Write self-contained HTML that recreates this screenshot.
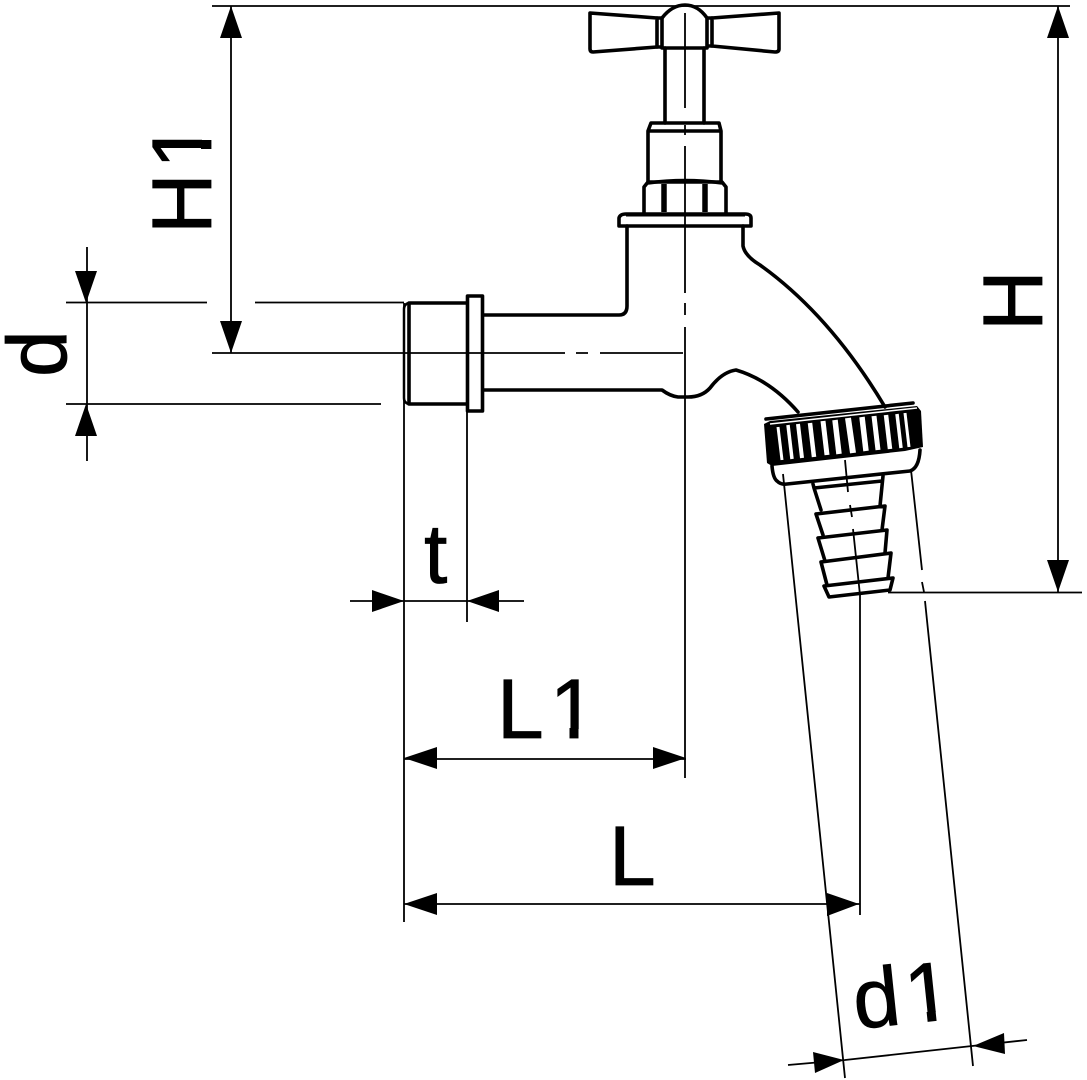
<!DOCTYPE html>
<html><head><meta charset="utf-8"><style>
html,body{margin:0;padding:0;background:#fff}
svg{display:block}
text{font-family:"Liberation Sans",Arial,sans-serif;font-size:84px;fill:#000;stroke:#000;stroke-width:.8}
.t{fill:none;stroke:#000;stroke-width:1.8}
.o{fill:none;stroke:#000;stroke-width:3.6;stroke-linejoin:round;stroke-linecap:round}
.a{fill:#000;stroke:none}
.s{fill:none;stroke:#fff}
</style></head><body>
<svg width="1087" height="1080" viewBox="0 0 1087 1080" xmlns="http://www.w3.org/2000/svg">
<!-- handle -->
<path class="o" d="M590 13 L657 18 V47 L593 52 Q590 52 590 49 Z"/>
<path class="o" d="M779 13 L712 18 V46 L775 52 Q779 52 779 49 Z"/>
<path class="o" d="M657 18 H662 M657 47 H662 M708 18 H712 M708 46 H712"/>
<path class="o" d="M662 48 V18 Q672 5 685 5 Q698 5 707 18 V48 Z"/>
<path class="o" d="M665 48 V123 M704 48 V123"/>
<!-- bonnet -->
<path class="o" d="M648 181 V131 L651 123 H719 L721 131 V181 M649 131 H720"/>
<path class="o" d="M644 213 V187 L648 182 H722 L726 187 V213"/>
<path d="M664 184 V212 M705 184 V212" fill="none" stroke="#000" stroke-width="5.500"/>
<path d="M648 183 Q685 178 722 183" fill="none" stroke="#000" stroke-width="3.500"/>
<path class="o" d="M619 218 Q620 214 626 214 H745 Q751 214 751 218 V226 H619 Z"/>
<path d="M626 214.500 H745" stroke="#000" stroke-width="4" fill="none"/>
<!-- body -->
<path class="o" d="M627 226 V306 Q627 315 619 315 H483"/>
<path class="o" d="M483 390 H662 Q670 396 678 397 H688 Q702 397 710 388 Q722 372 736 370 Q770 380 798 412"/>
<path class="o" d="M743 226 V246 Q745 256 760 265 Q830 315 885 407"/>
<!-- inlet -->
<path class="o" d="M467.500 296 H482.500 V411 H467.500 Z"/>
<path class="o" d="M467 303 H409 V404 H467"/>
<path d="M409 303 Q404 304 404 309 V398 Q404 403 409 404" fill="none" stroke="#000" stroke-width="2.500"/>
<!-- nut -->
<path class="o" d="M766 419 L913 403"/>
<polygon class="a" points="764,424 770,421 917,406 921,411 923,447 905,451 772,466 767,463"/>
<path class="s" stroke-width="3" d="M778 427 L782 460"/>
<path class="s" stroke-width="3.500" d="M788 425 L792 459"/>
<path class="s" stroke-width="4" d="M798 424 L802 458"/>
<path class="s" stroke-width="4.500" d="M810 423 L814 457"/>
<path class="s" stroke-width="5" d="M823 421 L827 455"/>
<path class="s" stroke-width="5.500" d="M835 420 L839 454"/>
<path class="s" stroke-width="6" d="M848 418 L853 453"/>
<path class="s" stroke-width="5.500" d="M862 417 L866 451"/>
<path class="s" stroke-width="5" d="M874 416 L878 450"/>
<path class="s" stroke-width="4.500" d="M886 415 L890 449"/>
<path class="s" stroke-width="3.500" d="M897 414 L901 448"/>
<path class="s" stroke-width="3" d="M905 413 L909 447"/>
<path d="M770 424 L917 408" stroke="#fff" stroke-width="1.500" fill="none"/>
<path class="o" d="M772 466 Q773 478 777 481 Q781 485 787 484 L910 471 Q919 468 920 450"/>
<!-- hose barb -->
<path class="o" d="M813 484 L814 488 L821 510 M883 476 L880 506 M814 488 L882 481"/>
<path class="o" d="M816 514 L885 506 L882 530 M816 514 L823 535"/>
<path class="o" d="M818 538 L887 530 L885 553 M818 538 L825 561"/>
<path class="o" d="M821 562 L891 553 L888 578 M821 562 L827 585"/>
<path class="o" d="M824 586 L893 578 L890 590 L829 597 Z"/>
<!-- centre lines -->
<path class="t" d="M685 13 V108 M685 125 V135 M685 146 V293 M685 303 V315 M685 327 V778"/>
<path class="t" d="M212 353 H565 M576 353 H588 M600 353 H683"/>
<path class="t" d="M845 460 L848 492 M850 505 L852 517 M853 529 L860 595 V915"/>
<!-- dimension / extension lines -->
<path class="t" d="M212 6 H1070 M888 592.500 H1082 M1058 6 V592 M231 6 V353"/>
<path class="t" d="M87 247 V461 M66 302.500 H207 M255 302.500 H404 M66 404 H381"/>
<path class="t" d="M404 303 V922 M467 412 V622 M350 601 H524 M404 759 H686 M404 904 H860"/>
<path class="t" d="M783 474 L845 1078 M911 470 L922 570 M922 582 L924 592 M925 601 L973 1066"/>
<path class="t" d="M788 1065 L845 1060 L972 1046 L1027 1040"/>
<!-- arrowheads -->
<polygon class="a" points="1058,6 1047,38 1069,38"/>
<polygon class="a" points="1058,592 1047,560 1069,560"/>
<polygon class="a" points="231,6 220,38 242,38"/>
<polygon class="a" points="231,353 220,321 242,321"/>
<polygon class="a" points="86,303 75,271 97,271"/>
<polygon class="a" points="86,404 75,436 97,436"/>
<polygon class="a" points="404,601 372,590 372,612"/>
<polygon class="a" points="467,601 499,590 499,612"/>
<polygon class="a" points="404,758 437,747 437,769"/>
<polygon class="a" points="686,758 653,747 653,769"/>
<polygon class="a" points="859,904 827,893 827,916"/>
<polygon class="a" points="404,904 437,893 437,915"/>
<polygon class="a" points="844,1060 813,1052 815,1073"/>
<polygon class="a" points="973,1046 1004,1033 1005,1054"/>
<!-- labels -->
<text transform="translate(211,234) rotate(-90)">H<tspan dx="4.600">1</tspan></text>
<rect x="202" y="118" width="12" height="57" fill="#fff"/>
<rect x="201" y="140" width="10.400" height="9" fill="#000"/>
<text transform="translate(1042,331) rotate(-90)">H</text>
<text transform="translate(66,377) rotate(-90)">d</text>
<text x="424" y="583">t</text>
<text x="497" y="738">L<tspan dx="6">1</tspan></text>
<rect x="546" y="729" width="56" height="11" fill="#fff"/>
<rect x="569.500" y="728" width="9" height="10.400" fill="#000"/>
<text x="609" y="885">L</text>
<g transform="translate(856,1029) rotate(-6)">
<text>d<tspan dx="5.500">1</tspan></text>
<rect x="55" y="-8.500" width="52" height="11" fill="#fff"/>
<rect x="72" y="-9.500" width="9" height="9.900" fill="#000"/>
</g>
</svg>
</body></html>
